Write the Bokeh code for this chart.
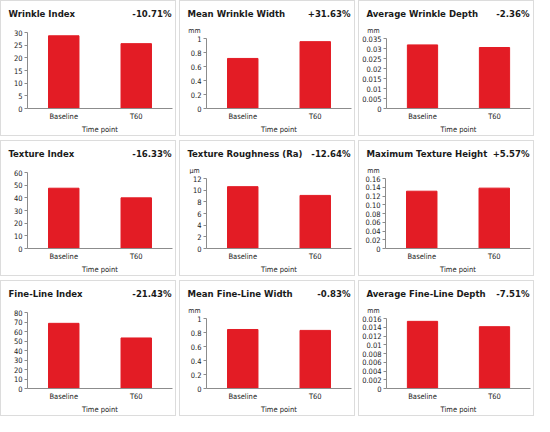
from bokeh.plotting import figure
from bokeh.layouts import column, row
from bokeh.models import Range1d, FixedTicker, Label, ColumnDataSource
from bokeh.embed import file_html
from bokeh.resources import INLINE

categories = ["Baseline", "T60"]

titles = ["Wrinkle Index", "Mean Wrinkle Width", "Average Wrinkle Depth",
          "Texture Index", "Texture Roughness (Ra)", "Maximum Texture Height",
          "Fine-Line Index", "Mean Fine-Line Width", "Average Fine-Line Depth"]
changes = ["-10.71%", "+31.63%", "-2.36%",
           "-16.33%", "-12.64%", "+5.57%",
           "-21.43%", "-0.83%", "-7.51%"]
units = ["", "mm", "mm", "", "\u00b5m", "mm", "", "mm", "mm"]

wrinkle_index = [28.7, 25.6]
mean_wrinkle_width = [0.715, 0.955]
average_wrinkle_depth = [0.0318, 0.0305]
texture_index = [47.6, 40.0]
texture_roughness = [10.6, 9.1]
max_texture_height = [0.131, 0.138]
fine_line_index = [68.6, 53.2]
mean_fine_line_width = [0.843, 0.830]
average_fine_line_depth = [0.01535, 0.01413]

values = [wrinkle_index, mean_wrinkle_width, average_wrinkle_depth,
          texture_index, texture_roughness, max_texture_height,
          fine_line_index, mean_fine_line_width, average_fine_line_depth]

ticks_wi = [0, 5, 10, 15, 20, 25, 30]
labels_wi = ["0", "5", "10", "15", "20", "25", "30"]
ticks_mww = [0, 0.2, 0.4, 0.6, 0.8, 1]
labels_mww = ["0", "0.2", "0.4", "0.6", "0.8", "1"]
ticks_awd = [0, 0.005, 0.01, 0.015, 0.02, 0.025, 0.03, 0.035]
labels_awd = ["0", "0.005", "0.01", "0.015", "0.02", "0.025", "0.03", "0.035"]
ticks_ti = [0, 10, 20, 30, 40, 50, 60]
labels_ti = ["0", "10", "20", "30", "40", "50", "60"]
ticks_tr = [0, 2, 4, 6, 8, 10, 12]
labels_tr = ["0", "2", "4", "6", "8", "10", "12"]
ticks_mth = [0, 0.02, 0.04, 0.06, 0.08, 0.1, 0.12, 0.14, 0.16]
labels_mth = ["0", "0.02", "0.04", "0.06", "0.08", "0.10", "0.12", "0.14", "0.16"]
ticks_fli = [0, 10, 20, 30, 40, 50, 60, 70, 80]
labels_fli = ["0", "10", "20", "30", "40", "50", "60", "70", "80"]
ticks_mflw = [0, 0.2, 0.4, 0.6, 0.8, 1]
labels_mflw = ["0", "0.2", "0.4", "0.6", "0.8", "1"]
ticks_afld = [0, 0.002, 0.004, 0.006, 0.008, 0.01, 0.012, 0.014, 0.016]
labels_afld = ["0", "0.002", "0.004", "0.006", "0.008", "0.01", "0.012", "0.014", "0.016"]

all_ticks = [ticks_wi, ticks_mww, ticks_awd, ticks_ti, ticks_tr, ticks_mth,
             ticks_fli, ticks_mflw, ticks_afld]
all_labels = [labels_wi, labels_mww, labels_awd, labels_ti, labels_tr, labels_mth,
              labels_fli, labels_mflw, labels_afld]

BAR = "#e31c25"
FONT = "DejaVu Sans Condensed"
TXT = "#1a1a1a"
BORDER = "1px solid #dcdcdc"
W = 176
PANEL_H = 136
MBL = 26

panels = []
for i in range(9):
    unit = units[i]
    H = 34 if unit else 28
    ticks = all_ticks[i]

    # header: title, change, unit
    hd = figure(width=W, height=H, x_range=Range1d(0, W), y_range=Range1d(0, H),
                x_axis_type=None, y_axis_type=None, output_backend="svg",
                toolbar_location=None, min_border=0, outline_line_color=None,
                frame_align=False,
                styles={"border": BORDER, "border-bottom": "none",
                        "box-sizing": "border-box"})
    hd.xgrid.visible = False
    hd.ygrid.visible = False
    hd.add_layout(Label(x=7, y=H - 12, text=titles[i], text_font=FONT,
                        text_font_size="9.5px", text_font_style="bold",
                        text_color=TXT, text_align="left", text_baseline="middle"))
    hd.add_layout(Label(x=W - 6, y=H - 12, text=changes[i], text_font=FONT,
                        text_font_size="9.5px", text_font_style="bold",
                        text_color=TXT, text_align="right", text_baseline="middle"))
    if unit:
        hd.add_layout(Label(x=MBL - 12, y=H - 29, text=unit, text_font=FONT,
                            text_font_size="7px", text_color=TXT,
                            text_align="center", text_baseline="middle"))

    p = figure(x_range=categories, y_range=Range1d(0, ticks[-1]),
               width=W, height=PANEL_H - H, output_backend="svg", toolbar_location=None,
               min_border_left=MBL, min_border_right=5, min_border_top=4,
               min_border_bottom=27, outline_line_color=None, frame_align=False,
               styles={"border": BORDER, "border-top": "none",
                       "box-sizing": "border-box"})
    src = ColumnDataSource(dict(x=categories, top=values[i]))
    p.vbar(x="x", top="top", width=0.42, source=src, fill_color=BAR, line_color=BAR)
    p.xgrid.visible = False
    p.ygrid.visible = False

    p.yaxis.ticker = FixedTicker(ticks=ticks)
    p.yaxis.major_label_overrides = {t: l for t, l in zip(ticks, all_labels[i])}
    p.yaxis.minor_tick_line_color = None
    p.yaxis.major_tick_in = 0
    p.yaxis.major_tick_out = 3
    p.yaxis.major_label_standoff = 2
    for ax in (p.xaxis[0], p.yaxis[0]):
        ax.axis_line_color = "#8c8c8c"
        ax.major_tick_line_color = "#8c8c8c"
        ax.major_label_text_font = FONT
        ax.major_label_text_font_size = "7.5px"
        ax.major_label_text_color = TXT
    p.xaxis.major_tick_line_color = None
    p.xaxis.major_tick_out = 0
    p.xaxis.major_tick_in = 0
    p.xaxis.major_label_standoff = 3
    p.xaxis.axis_label = "Time point"
    p.xaxis.axis_label_text_font = FONT
    p.xaxis.axis_label_text_font_size = "7.5px"
    p.xaxis.axis_label_text_font_style = "normal"
    p.xaxis.axis_label_text_color = TXT
    p.xaxis.axis_label_standoff = 1

    panels.append(column(hd, p, spacing=0))

rows = [row(*panels[r * 3:(r + 1) * 3], spacing=3) for r in range(3)]
page = column(*rows, spacing=4)

open("out.html", "w").write(file_html(page, INLINE))
